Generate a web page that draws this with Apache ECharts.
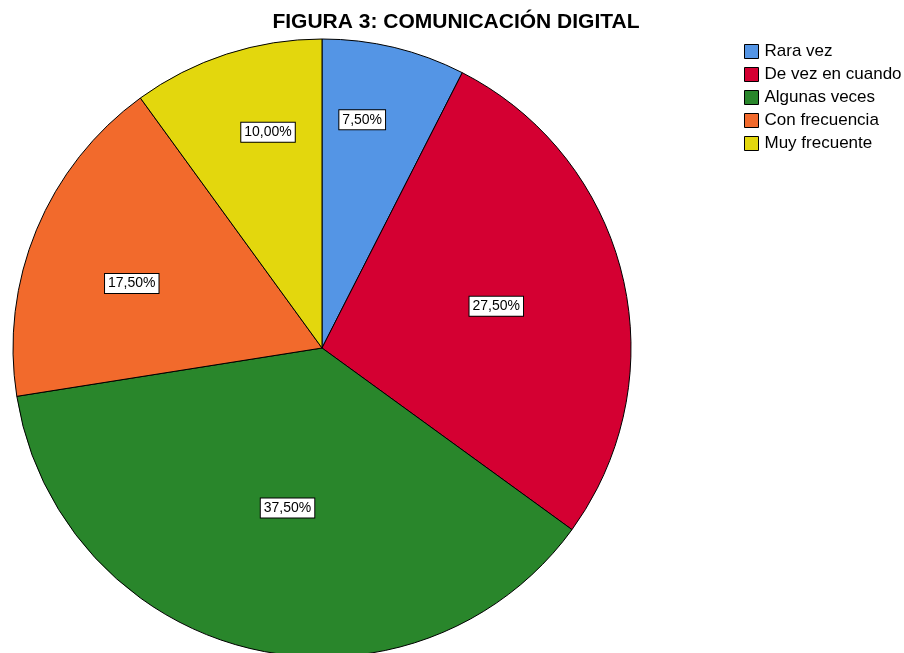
<!DOCTYPE html>
<html>
<head>
<meta charset="utf-8">
<script src="https://cdn.jsdelivr.net/npm/echarts@6/dist/echarts.min.js"></script>
<style>
html, body { margin: 0; padding: 0; background: #fff; }
#chart { width: 904px; height: 653px; }
</style>
</head>
<body>
<div id="chart"></div>
<script>
var categories = ['Rara vez', 'De vez en cuando', 'Algunas veces', 'Con frecuencia', 'Muy frecuente'];
var percentages = [7.5, 27.5, 37.5, 17.5, 10.0];
var colors = ['#5495e5', '#d40032', '#29862b', '#f26a2c', '#e3d70d'];
// where each label sits: fraction of the radius, and fraction along the slice's sweep
var labelRadius = [0.75, 0.58, 0.53, 0.65, 0.72];
var labelSweep = [0.37, 0.5, 0.49, 0.44, 0.61];

var myChart = echarts.init(document.getElementById('chart'));

var cx = 322, cy = 348, R = 309;

var option = {
    title: {
        text: 'FIGURA 3: COMUNICACIÓN DIGITAL',
        left: 456,
        top: 12,
        textAlign: 'center',
        padding: 0,
        textStyle: {
            fontFamily: 'Liberation Sans, Arial, sans-serif',
            fontSize: 21,
            fontWeight: 'bold',
            color: '#000'
        }
    },
    legend: {
        orient: 'vertical',
        left: 744,
        top: 43,
        padding: 0,
        itemWidth: 14,
        itemHeight: 14,
        itemGap: 6,
        icon: 'rect',
        itemStyle: { borderColor: '#000', borderWidth: 1 },
        textStyle: {
            fontFamily: 'Liberation Sans, Arial, sans-serif',
            fontSize: 17,
            color: '#000',
            padding: [0, 0, 0, 1]
        },
        data: categories
    },
    series: [{
        type: 'pie',
        center: [cx, cy],
        radius: R,
        startAngle: 90,
        clockwise: true,
        silent: true,
        itemStyle: { borderColor: '#000', borderWidth: 1 },
        label: {
            position: 'inside',
            formatter: function (p) {
                return p.value.toFixed(2).replace('.', ',') + '%';
            },
            fontFamily: 'Liberation Sans, Arial, sans-serif',
            fontSize: 14,
            color: '#000',
            backgroundColor: '#fff',
            borderColor: '#000',
            borderWidth: 1,
            padding: [3, 3, 2, 3]
        },
        labelLine: { show: false },
        labelLayout: function (params) {
            var i = params.dataIndex;
            var acc = 0, total = 0;
            percentages.forEach(function (v) { total += v; });
            for (var k = 0; k < i; k++) acc += percentages[k];
            var a = (90 - (acc + percentages[i] * labelSweep[i]) / total * 360) * Math.PI / 180;
            var r = R * labelRadius[i];
            return {
                x: cx + r * Math.cos(a),
                y: cy - r * Math.sin(a)
            };
        },
        data: categories.map(function (c, i) {
            return { name: c, value: percentages[i], itemStyle: { color: colors[i] } };
        })
    }]
};

myChart.setOption(option);
</script>
</body>
</html>
